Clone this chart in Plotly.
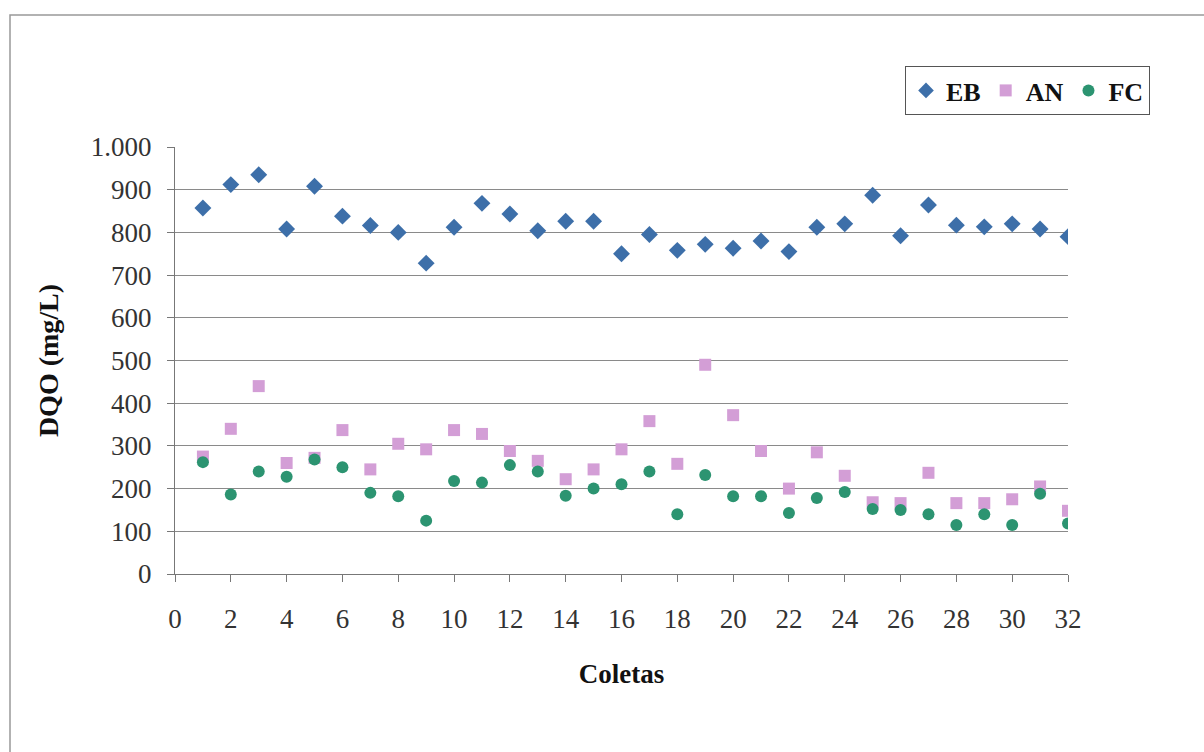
import plotly.graph_objects as go

coletas = list(range(1, 33))
eb = [857, 912, 935, 808, 908, 838, 816, 800, 728, 812, 868, 843, 804, 826, 826, 750,
      795, 758, 772, 763, 780, 755, 812, 820, 887, 792, 864, 817, 813, 820, 808, 790]
an = [275, 340, 440, 260, 272, 337, 245, 305, 292, 337, 328, 288, 265, 222, 245, 292,
      358, 258, 490, 372, 288, 200, 285, 230, 168, 166, 237, 166, 166, 175, 205, 148]
fc = [262, 186, 240, 228, 268, 250, 190, 182, 125, 218, 214, 255, 240, 183, 200, 210,
      240, 140, 232, 182, 182, 143, 178, 192, 152, 150, 140, 115, 140, 115, 188, 118]

W, H = 1204, 752
L, R, T, B = 175, 1068, 147, 574

fig = go.Figure()
fig.add_trace(go.Scatter(x=coletas, y=eb, mode="markers", name="<b>EB</b>",
                         marker=dict(symbol="diamond", size=13, color="#3D6FA9")))
fig.add_trace(go.Scatter(x=coletas, y=an, mode="markers", name="<b>AN</b>",
                         marker=dict(symbol="square", size=12, color="#D39ED6")))
fig.add_trace(go.Scatter(x=coletas, y=fc, mode="markers", name="<b>FC</b>",
                         marker=dict(symbol="circle", size=12, color="#2C9471")))

serif = "Liberation Serif, Times New Roman, serif"
pw, ph = R - L, B - T

def px(xp):
    return (xp - L) / pw

def py(yp):
    return (B - yp) / ph

fig.update_layout(
    width=W, height=H,
    margin=dict(l=L, r=W - R, t=T, b=H - B),
    paper_bgcolor="white", plot_bgcolor="white",
    separators=",.",
    font=dict(family=serif, color="#222222", size=26),
    showlegend=True,
    legend=dict(orientation="h", x=px(905), y=py(66), xanchor="left", yanchor="top",
                bordercolor="#555555", borderwidth=1, bgcolor="white",
                font=dict(family=serif, size=26, color="#111111"),
                itemsizing="constant", itemwidth=30, tracegroupgap=0),
    xaxis=dict(range=[0, 32], tickvals=list(range(0, 33, 2)), showgrid=False,
               zeroline=False, showline=True, linecolor="#777777", linewidth=1,
               ticks="outside", ticklen=7, tickcolor="#777777", ticklabelstandoff=14,
               tickfont=dict(family=serif, size=27, color="#333333"),
               title=dict(text="<b>Coletas</b>", font=dict(family=serif, size=27, color="#111111"),
                          standoff=30)),
    yaxis=dict(range=[0, 1000], tickvals=list(range(0, 1001, 100)), tickformat=",d",
               showgrid=True, gridcolor="#8a8a8a", gridwidth=1,
               zeroline=False, showline=True, linecolor="#777777", linewidth=1,
               ticks="outside", ticklen=7, tickcolor="#777777", ticklabelstandoff=10,
               tickfont=dict(family=serif, size=27, color="#333333"),
               title=dict(text="<b>DQO (mg/L)</b>", font=dict(family=serif, size=28, color="#111111"),
                          standoff=24)),
    shapes=[dict(type="rect", xref="paper", yref="paper",
                 x0=px(10), x1=px(1215), y0=py(15), y1=py(770),
                 line=dict(color="#999999", width=1.5), fillcolor="rgba(0,0,0,0)", layer="below")],
)

fig.write_html("out.html")
